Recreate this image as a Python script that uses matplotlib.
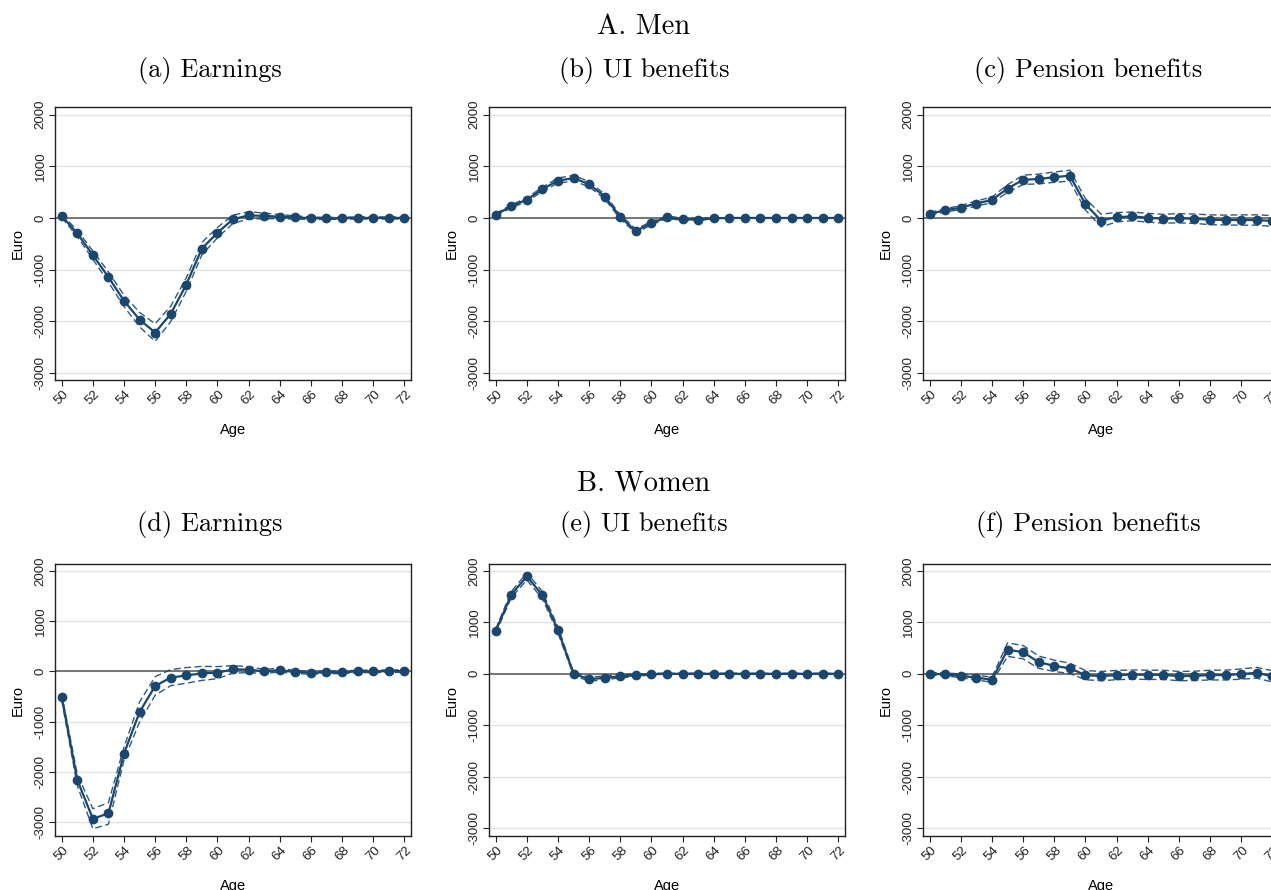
import numpy as np
import matplotlib
matplotlib.use('Agg')
import matplotlib.pyplot as plt

plt.rcParams['axes.unicode_minus'] = False

# ------------------- data -------------------
ages = np.arange(50, 73)

# Men
men_earn = [40, -300, -720, -1145, -1605, -1970, -2220, -1860, -1290, -595, -285, -25,
            50, 40, 25, 10, -5, -10, -5, 0, 0, 0, 0]
men_earn_ci = [30, 60, 80, 100, 110, 140, 170, 150, 130, 120, 100, 80,
               70, 55, 40, 30, 25, 20, 20, 20, 20, 20, 20]
men_ui = [65, 225, 355, 555, 725, 770, 655, 415, 20, -255, -100, 15,
          -25, -30, -5, 0, 0, 0, 0, 0, 0, 0, 0]
men_ui_ci = [20, 30, 35, 40, 50, 55, 50, 45, 40, 40, 30, 25,
             20, 20, 10, 5, 5, 5, 5, 5, 5, 5, 5]
men_pens = [80, 150, 200, 280, 350, 570, 740, 755, 790, 820, 265, -50,
            15, 30, 5, -15, -5, -15, -35, -40, -40, -40, -60]
men_pens_ci = [25, 30, 40, 50, 55, 75, 90, 95, 100, 105, 110, 125,
               90, 85, 85, 85, 90, 90, 95, 95, 100, 100, 105]

# Women
wom_earn = [-510, -2160, -2935, -2830, -1640, -810, -290, -125, -80, -40, -25, 40,
            35, 0, 25, -15, -25, -20, -20, 0, 0, 5, 5]
wom_earn_ci = [60, 110, 200, 215, 130, 200, 185, 160, 155, 140, 120, 75,
               60, 40, 40, 30, 30, 25, 25, 25, 25, 25, 25]
wom_ui = [830, 1540, 1895, 1530, 850, 0, -105, -80, -50, -30, -5, 0,
          0, 0, 0, 0, 0, 0, 0, 0, 0, 0, 0]
wom_ui_ci = [40, 60, 70, 70, 60, 30, 40, 35, 30, 25, 15, 10,
             10, 10, 10, 10, 10, 10, 10, 10, 10, 10, 10]
wom_pens = [0, -10, -40, -75, -115, 470, 420, 225, 155, 105, -25, -45,
            -25, -15, -20, -20, -45, -40, -25, -25, -5, 20, -50]
wom_pens_ci = [25, 30, 35, 45, 50, 130, 130, 120, 110, 100, 90, 90,
               90, 90, 90, 90, 90, 90, 95, 95, 100, 105, 110]

titles = ['(a) Earnings', '(b) UI benefits', '(c) Pension benefits',
          '(d) Earnings', '(e) UI benefits', '(f) Pension benefits']
series = [(men_earn, men_earn_ci), (men_ui, men_ui_ci), (men_pens, men_pens_ci),
          (wom_earn, wom_earn_ci), (wom_ui, wom_ui_ci), (wom_pens, wom_pens_ci)]

# ------------------- layout (pixels) -------------------
W, H = 1271, 890
navy = '#1a476f'
lefts = [55, 489, 923]
# (top, bottom) in px
rows = [(107, 380), (564, 836)]
ylims = [(-3140, 2150), (-3140, 2150), (-3140, 2150),
         (-3279, 2139), (-3156, 2136), (-3156, 2136)]
title_x = [210, 644, 1088]
title_y = [70, 525]
tick_font = 'Liberation Sans'
serif = 'cmr10'

fig = plt.figure(figsize=(W / 100, H / 100), dpi=100)

for k, (est, ci) in enumerate(series):
    r, c = divmod(k, 3)
    top, bot = rows[r]
    ax = fig.add_axes([lefts[c] / W, 1 - bot / H, 356 / W, (bot - top) / H])
    est = np.asarray(est, dtype=float)
    ci = np.asarray(ci, dtype=float)

    ax.axhline(0, color='#555555', lw=1.1, zorder=1)
    ax.plot(ages, est + ci, ls=(0, (5, 2.5)), color=navy, lw=1.0, alpha=0.9, zorder=2)
    ax.plot(ages, est - ci, ls=(0, (5, 2.5)), color=navy, lw=1.0, alpha=0.9, zorder=2)
    ax.plot(ages, est, '-o', color=navy, lw=1.6, ms=6, zorder=3)

    ax.set_xlim(49.57, 72.43)
    ax.set_ylim(*ylims[k])
    ax.set_yticks([-3000, -2000, -1000, 0, 1000, 2000])
    ax.set_xticks(np.arange(50, 73, 2))
    ax.grid(axis='y', color='#e3e3e3', lw=1.0)
    ax.set_axisbelow(True)
    for lab in ax.get_yticklabels():
        lab.set_rotation(90)
        lab.set_va('center')
        lab.set_family(tick_font)
        lab.set_fontsize(9.5)
    for lab in ax.get_xticklabels():
        lab.set_rotation(45)
        lab.set_family(tick_font)
        lab.set_fontsize(9.5)
    ax.tick_params(length=4, width=0.8, pad=2, colors='#222222')
    for s in ax.spines.values():
        s.set_color('#222222')
        s.set_linewidth(1.0)
    ax.set_ylabel('Euro', family=tick_font, fontsize=10.5, labelpad=7)
    ax.set_xlabel('Age', family=tick_font, fontsize=10.5, labelpad=11)

    fig.text(title_x[c] / W, 1 - title_y[r] / H, titles[k], family=serif,
             fontsize=19, ha='center', va='center')

fig.text(644 / W, 1 - 27 / H, 'A. Men', family=serif, fontsize=20.5, ha='center', va='center')
fig.text(644 / W, 1 - 483 / H, 'B. Women', family=serif, fontsize=20.5, ha='center', va='center')

fig.savefig('out.png', dpi=100, facecolor='white')
